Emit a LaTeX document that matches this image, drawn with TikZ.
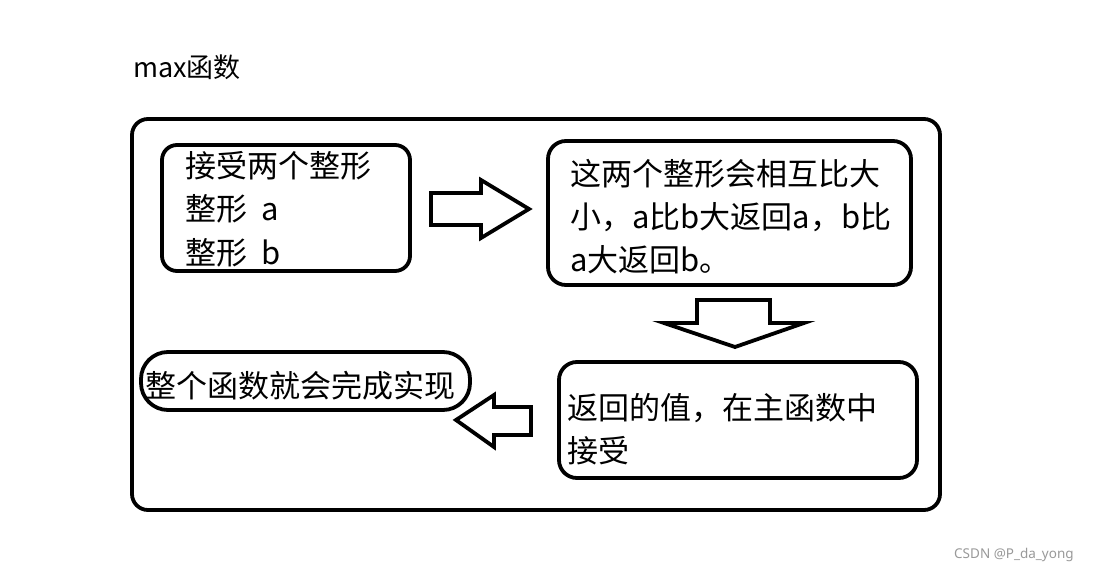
\documentclass[tikz,border=0pt]{standalone}
\usepackage{fontspec}
\newfontfamily\cjk{Noto Sans CJK SC}
\begin{document}
\begin{tikzpicture}[x=1pt,y=-1pt,
  box/.style={draw=black,line width=3.8pt,rounded corners=16pt,inner sep=0pt,fill=none},
  txt/.style={anchor=base west,inner sep=0pt,font=\cjk\fontsize{31}{31}\selectfont},
  blockarrow/.style={draw=black,line width=3.8pt,line join=miter,fill=white}]
\useasboundingbox (0,0) rectangle (1095,572);
\fill[white] (0,0) rectangle (1095,572);
% title
\node[anchor=base west,inner sep=0pt,font=\cjk\fontsize{27}{27}\selectfont] (title) at (133,78) {max函数};
% outer frame
\node[box,minimum width=808pt,minimum height=391pt] (outer) at (536,314.5) {};
% boxes
\node[box,rounded corners=15pt,minimum width=248pt,minimum height=126pt] (b1) at (286,208) {};
\node[box,rounded corners=18pt,minimum width=363pt,minimum height=144pt] (b2) at (729.5,213) {};
\node[box,rounded corners=27pt,minimum width=329pt,minimum height=58pt] (b3) at (305.5,381) {};
\node[box,rounded corners=18pt,minimum width=358pt,minimum height=116pt] (b4) at (738,420) {};
% texts
\node[txt] (t1a) at (185,178) {接受两个整形};
\node[txt] (t1b) at (185,221) {整形\ \ a};
\node[txt] (t1c) at (185,264) {整形\ \ b};
\node[txt] (t2a) at (570,186) {这两个整形会相互比大};
\node[txt] (t2b) at (570,229) {小，a比b大返回a，b比};
\node[txt] (t2c) at (570,272) {a大返回b。};
\node[txt] (t3a) at (145,397) {整个函数就会完成实现};
\node[txt] (t4a) at (567,419) {返回的值，在主函数中};
\node[txt] (t4b) at (567,462) {接受};
% block arrows
\draw[blockarrow] (431,193) -- (481,193) -- (481,180) -- (529,209) -- (481,238) -- (481,225) -- (431,225) -- cycle;
\draw[blockarrow] (697,300) -- (770,300) -- (770,323) -- (804,323) -- (735,347) -- (664,323) -- (697,323) -- cycle;
\draw[blockarrow] (531,407) -- (494,407) -- (494,395) -- (456,420) -- (494,447) -- (494,435) -- (531,435) -- cycle;
% watermark
\node[anchor=base west,inner sep=0pt,text=black!40,font=\fontspec{Noto Sans}\fontsize{13.5}{13.5}\selectfont] (wm) at (954,558) {CSDN @P\_da\_yong};
\end{tikzpicture}
\end{document}
